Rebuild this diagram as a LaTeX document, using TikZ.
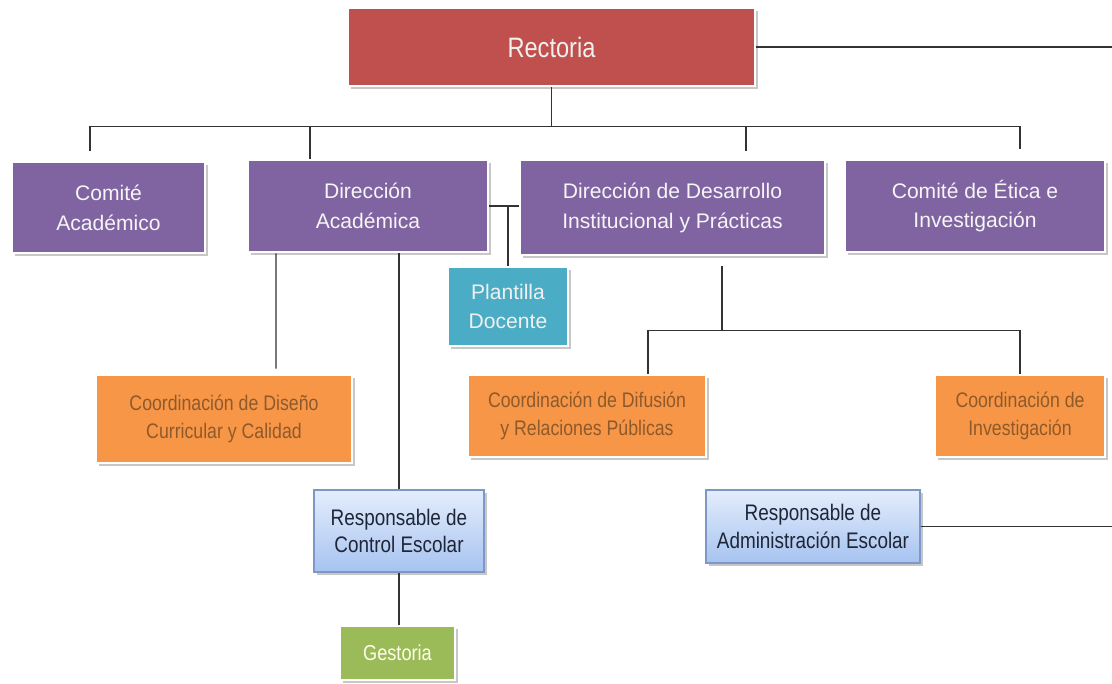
\documentclass[tikz,border=0pt]{standalone}
\usepackage{fontspec}
\setmainfont{Liberation Sans}
\newfontfamily\narrowsf{Liberation Sans}[FakeStretch=0.84]
\usepackage{tikz}
\usetikzlibrary{shapes,positioning,shadows,calc}
\definecolor{rectred}{HTML}{C0504D}
\definecolor{dirpurple}{HTML}{8064A2}
\definecolor{docteal}{HTML}{4BACC6}
\definecolor{coordorange}{HTML}{F79646}
\definecolor{coordtext}{HTML}{8E5A2C}
\definecolor{gestgreen}{HTML}{9BBB59}
\definecolor{resptop}{HTML}{E4EDFC}
\definecolor{respbottom}{HTML}{A6C3F0}
\definecolor{respborder}{HTML}{7D98C6}
\definecolor{resptext}{HTML}{1E2536}
\tikzset{
    org box/.style={rectangle, draw=white, line width=1.5pt, align=center, inner sep=2pt,
        drop shadow={shadow xshift=1.5pt, shadow yshift=-1.8pt, fill=black, opacity=0.22}},
    rector/.style={org box, fill=rectred, text=white!94!black, font=\narrowsf\fontsize{16}{18}\selectfont},
    direccion/.style={org box, fill=dirpurple, text=white!96!black, font=\fontsize{12}{17}\selectfont},
    docente/.style={org box, fill=docteal, text=white!94!black, font=\fontsize{12}{17}\selectfont},
    coord/.style={org box, fill=coordorange, text=coordtext, font=\narrowsf\fontsize{12}{15.5}\selectfont},
    gestor/.style={org box, fill=gestgreen, text=yellow!8!white, font=\narrowsf\fontsize{12.3}{14}\selectfont},
    resp/.style={rectangle, draw=respborder, line width=0.6pt, top color=resptop, bottom color=respbottom,
        align=center, text=resptext, font=\narrowsf\fontsize{12.8}{15.5}\selectfont,
        drop shadow={shadow xshift=1.5pt, shadow yshift=-1.8pt, fill=black, opacity=0.22}}
}
\begin{document}
\begin{tikzpicture}[link/.style={draw=black!80, line width=0.6pt}]
    \useasboundingbox (0,0) rectangle (22.24,-13.68);
    % top level
    \node[rector, minimum width=8.14cm, minimum height=1.56cm] (rect) at (11.03,-0.94) {Rectoria};
    % direcciones
    \node[direccion, minimum width=3.86cm, minimum height=1.82cm] (comite) at (2.17,-4.15) {Comité\\Académico};
    \node[direccion, minimum width=4.80cm, minimum height=1.84cm] (diracad) at (7.36,-4.12) {Dirección\\Académica};
    \node[direccion, minimum width=6.10cm, minimum height=1.90cm] (dirdes) at (13.45,-4.15) {Dirección de Desarrollo\\Institucional y Prácticas};
    \node[direccion, minimum width=5.20cm, minimum height=1.84cm] (etica) at (19.50,-4.12) {Comité de Ética e\\Investigación};
    \node[docente, minimum width=2.40cm, minimum height=1.58cm] (plantilla) at (10.16,-6.13) {Plantilla\\Docente};
    % coordinaciones
    \node[coord, minimum width=5.12cm, minimum height=1.76cm] (diseno) at (4.48,-8.38) {Coordinación de Diseño\\Curricular y Calidad};
    \node[coord, minimum width=4.76cm, minimum height=1.64cm] (difusion) at (11.74,-8.32) {Coordinación de Difusión\\y Relaciones Públicas};
    \node[coord, minimum width=3.40cm, minimum height=1.64cm] (invest) at (20.40,-8.32) {Coordinación de\\Investigación};
    % responsables
    \node[resp, minimum width=3.40cm, minimum height=1.64cm] (control) at (7.98,-10.62) {Responsable de\\Control Escolar};
    \node[resp, minimum width=4.28cm, minimum height=1.46cm] (admin) at (16.26,-10.53) {Responsable de\\Administración Escolar};
    \node[gestor, minimum width=2.30cm, minimum height=1.08cm] (gestoria) at (7.95,-13.06) {Gestoria};

    \coordinate (bus) at ([yshift=-0.78cm]rect.south);
    \coordinate (rend) at (22.24,-0.94);
    \draw[link] (rect.east) -- (rend);
    \draw[link] (rect.south) -- (bus);
    \draw[link] ([xshift=-0.37cm,yshift=0.2cm]comite.north) |- (bus) -| ([xshift=0.90cm,yshift=0.2cm]etica.north);
    \draw[link] ([xshift=-1.16cm]diracad.north) -- ([xshift=-1.16cm]diracad.north |- bus);
    \draw[link] ([xshift=1.47cm,yshift=0.15cm]dirdes.north) -- ([xshift=1.47cm]dirdes.north |- bus);
    % plantilla docente
    \draw[link] (diracad.east) -- (diracad.east -| dirdes.west);
    \draw[link] (plantilla.north) -- (plantilla.north |- diracad.east);
    % direccion academica
    \draw[link] ([xshift=-1.84cm]diracad.south) -- ([xshift=1.04cm,yshift=0.1cm]diseno.north);
    \draw[link] (control.north) -- (control.north |- diracad.south);
    \draw[link] (control.south) -- (control.south |- gestoria.north);
    % desarrollo institucional
    \draw[link] ([xshift=0.99cm,yshift=-0.2cm]dirdes.south) -- ++(0,-1.28) coordinate (b5);
    \draw[link] ([xshift=1.22cm]difusion.north) |- (b5) -| (invest.north);
    \draw[link] (admin.east) -- (admin.east -| rend);
\end{tikzpicture}
\end{document}
